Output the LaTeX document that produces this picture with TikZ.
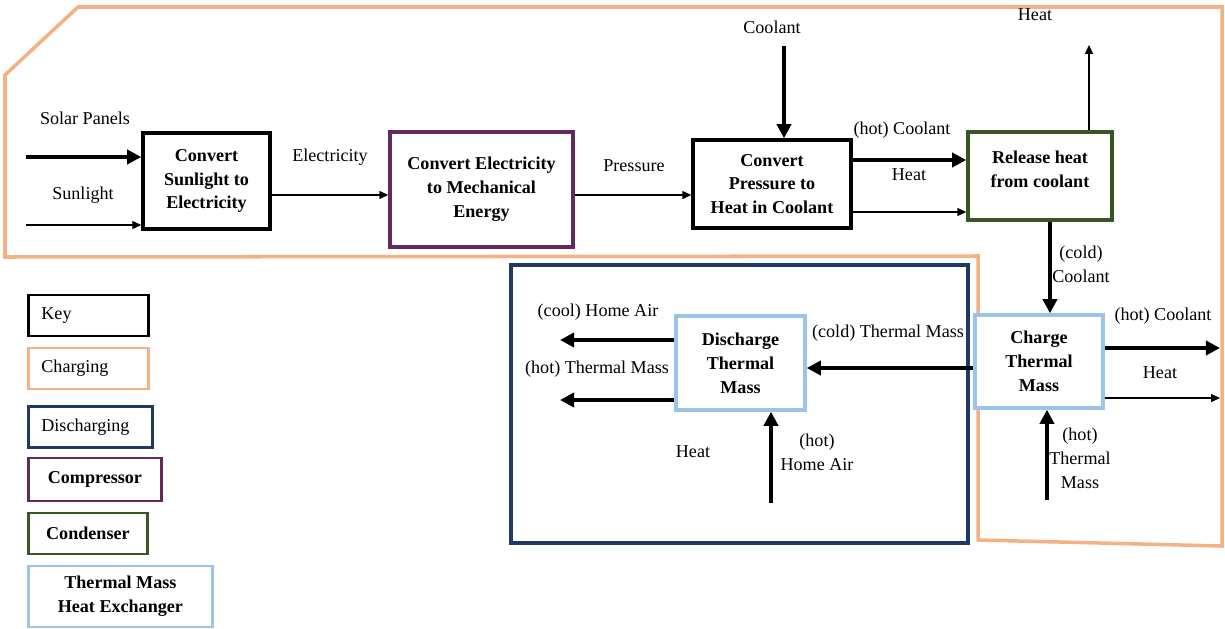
\documentclass[tikz,border=0pt]{standalone}
\usepackage{fontspec}
\setmainfont{Liberation Serif}
\usetikzlibrary{arrows.meta}

\definecolor{charging}{RGB}{244,177,131}
\definecolor{discharging}{RGB}{31,56,100}
\definecolor{compressor}{RGB}{100,40,90}
\definecolor{condenser}{RGB}{56,87,35}
\definecolor{exchanger}{RGB}{157,195,230}

\AtBeginDocument{\fontsize{10.3}{13.6}\selectfont}

\tikzset{
    process/.style={draw, line width=2pt, fill=white, align=center, font=\bfseries, inner sep=2pt},
    flow/.style={-{Triangle[length=5pt,width=4.5pt]}, line width=0.6pt},
    bigflow/.style={-{Triangle[length=8pt,width=8pt]}, line width=2.3pt},
    keybox/.style={draw, line width=1.6pt, minimum height=0.82cm, inner xsep=0.26cm, anchor=west},
    lbl/.style={align=center, inner sep=0pt}
}

\begin{document}
\begin{tikzpicture}[x=0.02cm, y=-0.02cm]
    \useasboundingbox (0,0) rectangle (1225,629);

    % charging and discharging regions
    \draw[charging, line width=2pt] (5,75) -- (78,7) -- (1222,7) -- (1222,546)
        -- (978,540) -- (978,256) -- (5,257) -- cycle;
    \draw[discharging, line width=2pt] (511,265) rectangle (968,543);

    % process boxes
    \node[process, minimum width=2.54cm, minimum height=1.92cm] (sun) at (206.5,181) {Convert\\Sunlight to\\Electricity};
    \node[process, draw=compressor, minimum width=3.66cm, minimum height=2.3cm] (mech) at (481.5,189.5) {Convert Electricity\\to Mechanical\\Energy};
    \node[process, minimum width=3.16cm, minimum height=1.76cm] (heat) at (772,184) {Convert\\Pressure to\\Heat in Coolant};
    \node[process, draw=condenser, minimum width=2.88cm, minimum height=1.76cm] (release) at (1040,176) {Release heat\\from coolant\\[-6pt]\mbox{}};
    \node[process, draw=exchanger, minimum width=2.56cm, minimum height=1.86cm] (charge) at (1039,361.5) {Charge\\Thermal\\Mass};
    \node[process, draw=exchanger, minimum width=2.58cm, minimum height=1.88cm] (discharge) at (740.5,363) {Discharge\\Thermal\\Mass};

    % flows
    \coordinate (sp) at (26,157);
    \coordinate (sl) at (26,225);
    \coordinate (el) at (0,195);
    \coordinate (cl) at (784,46);
    \coordinate (hc) at (0,160);
    \coordinate (hh) at (0,212);
    \coordinate (up) at (1089,45);
    \coordinate (cc) at (1050,0);
    \coordinate (ho) at (1220,348);
    \coordinate (hq) at (1220,398);
    \coordinate (tm) at (1047,500);
    \coordinate (ct) at (0,368);
    \coordinate (ca) at (560,340);
    \coordinate (ht) at (560,400);
    \coordinate (ha) at (771,503);
    \draw[bigflow] (sp) -- (sp -| sun.west);
    \draw[flow] (sl) -- (sl -| sun.west);
    \draw[flow] (el -| sun.east) -- (el -| mech.west);
    \draw[flow] (el -| mech.east) -- (el -| heat.west);
    \draw[bigflow] (cl) -- (cl |- heat.north);
    \draw[bigflow] (hc -| heat.east) -- (hc -| release.west);
    \draw[flow] (hh -| heat.east) -- (hh -| release.west);
    \draw[flow] (up |- release.north) -- (up);
    \draw[bigflow] (cc |- release.south) -- (cc |- charge.north);
    \draw[bigflow] (ho -| charge.east) -- (ho);
    \draw[flow] (hq -| charge.east) -- (hq);
    \draw[bigflow] (tm) -- (tm |- charge.south);
    \draw[bigflow] (ct -| charge.west) -- (ct -| discharge.east);
    \draw[bigflow] (ca -| discharge.west) -- (ca);
    \draw[bigflow] (ht -| discharge.west) -- (ht);
    \draw[bigflow] (ha) -- (ha |- discharge.south);

    % flow labels
    \node[lbl] (lsolar) at (85,118) {Solar Panels};
    \node[lbl] (lsun) at (83,195) {Sunlight};
    \node[lbl] (lelec) at (330,157) {Electricity};
    \node[lbl] (lpress) at (634,166) {Pressure};
    \node[lbl] (lcool) at (772,27) {Coolant};
    \node[lbl] (lhotcool) at (902,130) {(hot) Coolant};
    \node[lbl] (lheat1) at (909,175) {Heat};
    \node[lbl] (lheat2) at (1035,15) {Heat};
    \node[lbl] (lcoldcool) at (1081,264) {(cold)\\Coolant};
    \node[lbl] (lhotcool2) at (1163,316) {(hot) Coolant};
    \node[lbl] (lheat3) at (1160,373) {Heat};
    \node[lbl] (lhotmass) at (1080,458) {(hot)\\Thermal\\Mass};
    \node[lbl] (lcoldmass) at (888,333) {(cold) Thermal Mass};
    \node[lbl] (lcoolair) at (598,312) {(cool) Home Air};
    \node[lbl] (lhotmass2) at (597,369) {(hot) Thermal Mass};
    \node[lbl] (lheat4) at (693,452) {Heat};
    \node[lbl] (lhotair) at (817,452) {(hot)\\Home Air};

    % key
    \node[keybox, text width=1.88cm] (key) at (27,315.5) {Key};
    \node[keybox, draw=charging, text width=1.88cm] (kcharging) at (27,368.5) {Charging};
    \node[keybox, draw=discharging, text width=1.96cm] (kdischarging) at (27,427) {Discharging};
    \node[keybox, draw=compressor, minimum width=2.66cm, minimum height=0.86cm, font=\bfseries] (kcompressor) at (27,479.5) {Compressor};
    \node[keybox, draw=condenser, minimum width=2.38cm, font=\bfseries] (kcondenser) at (27,533.5) {Condenser};
    \node[keybox, draw=exchanger, minimum width=3.68cm, minimum height=1.22cm, font=\bfseries, align=center] (kexchanger) at (27,596.5) {Thermal Mass\\Heat Exchanger};
\end{tikzpicture}
\end{document}
